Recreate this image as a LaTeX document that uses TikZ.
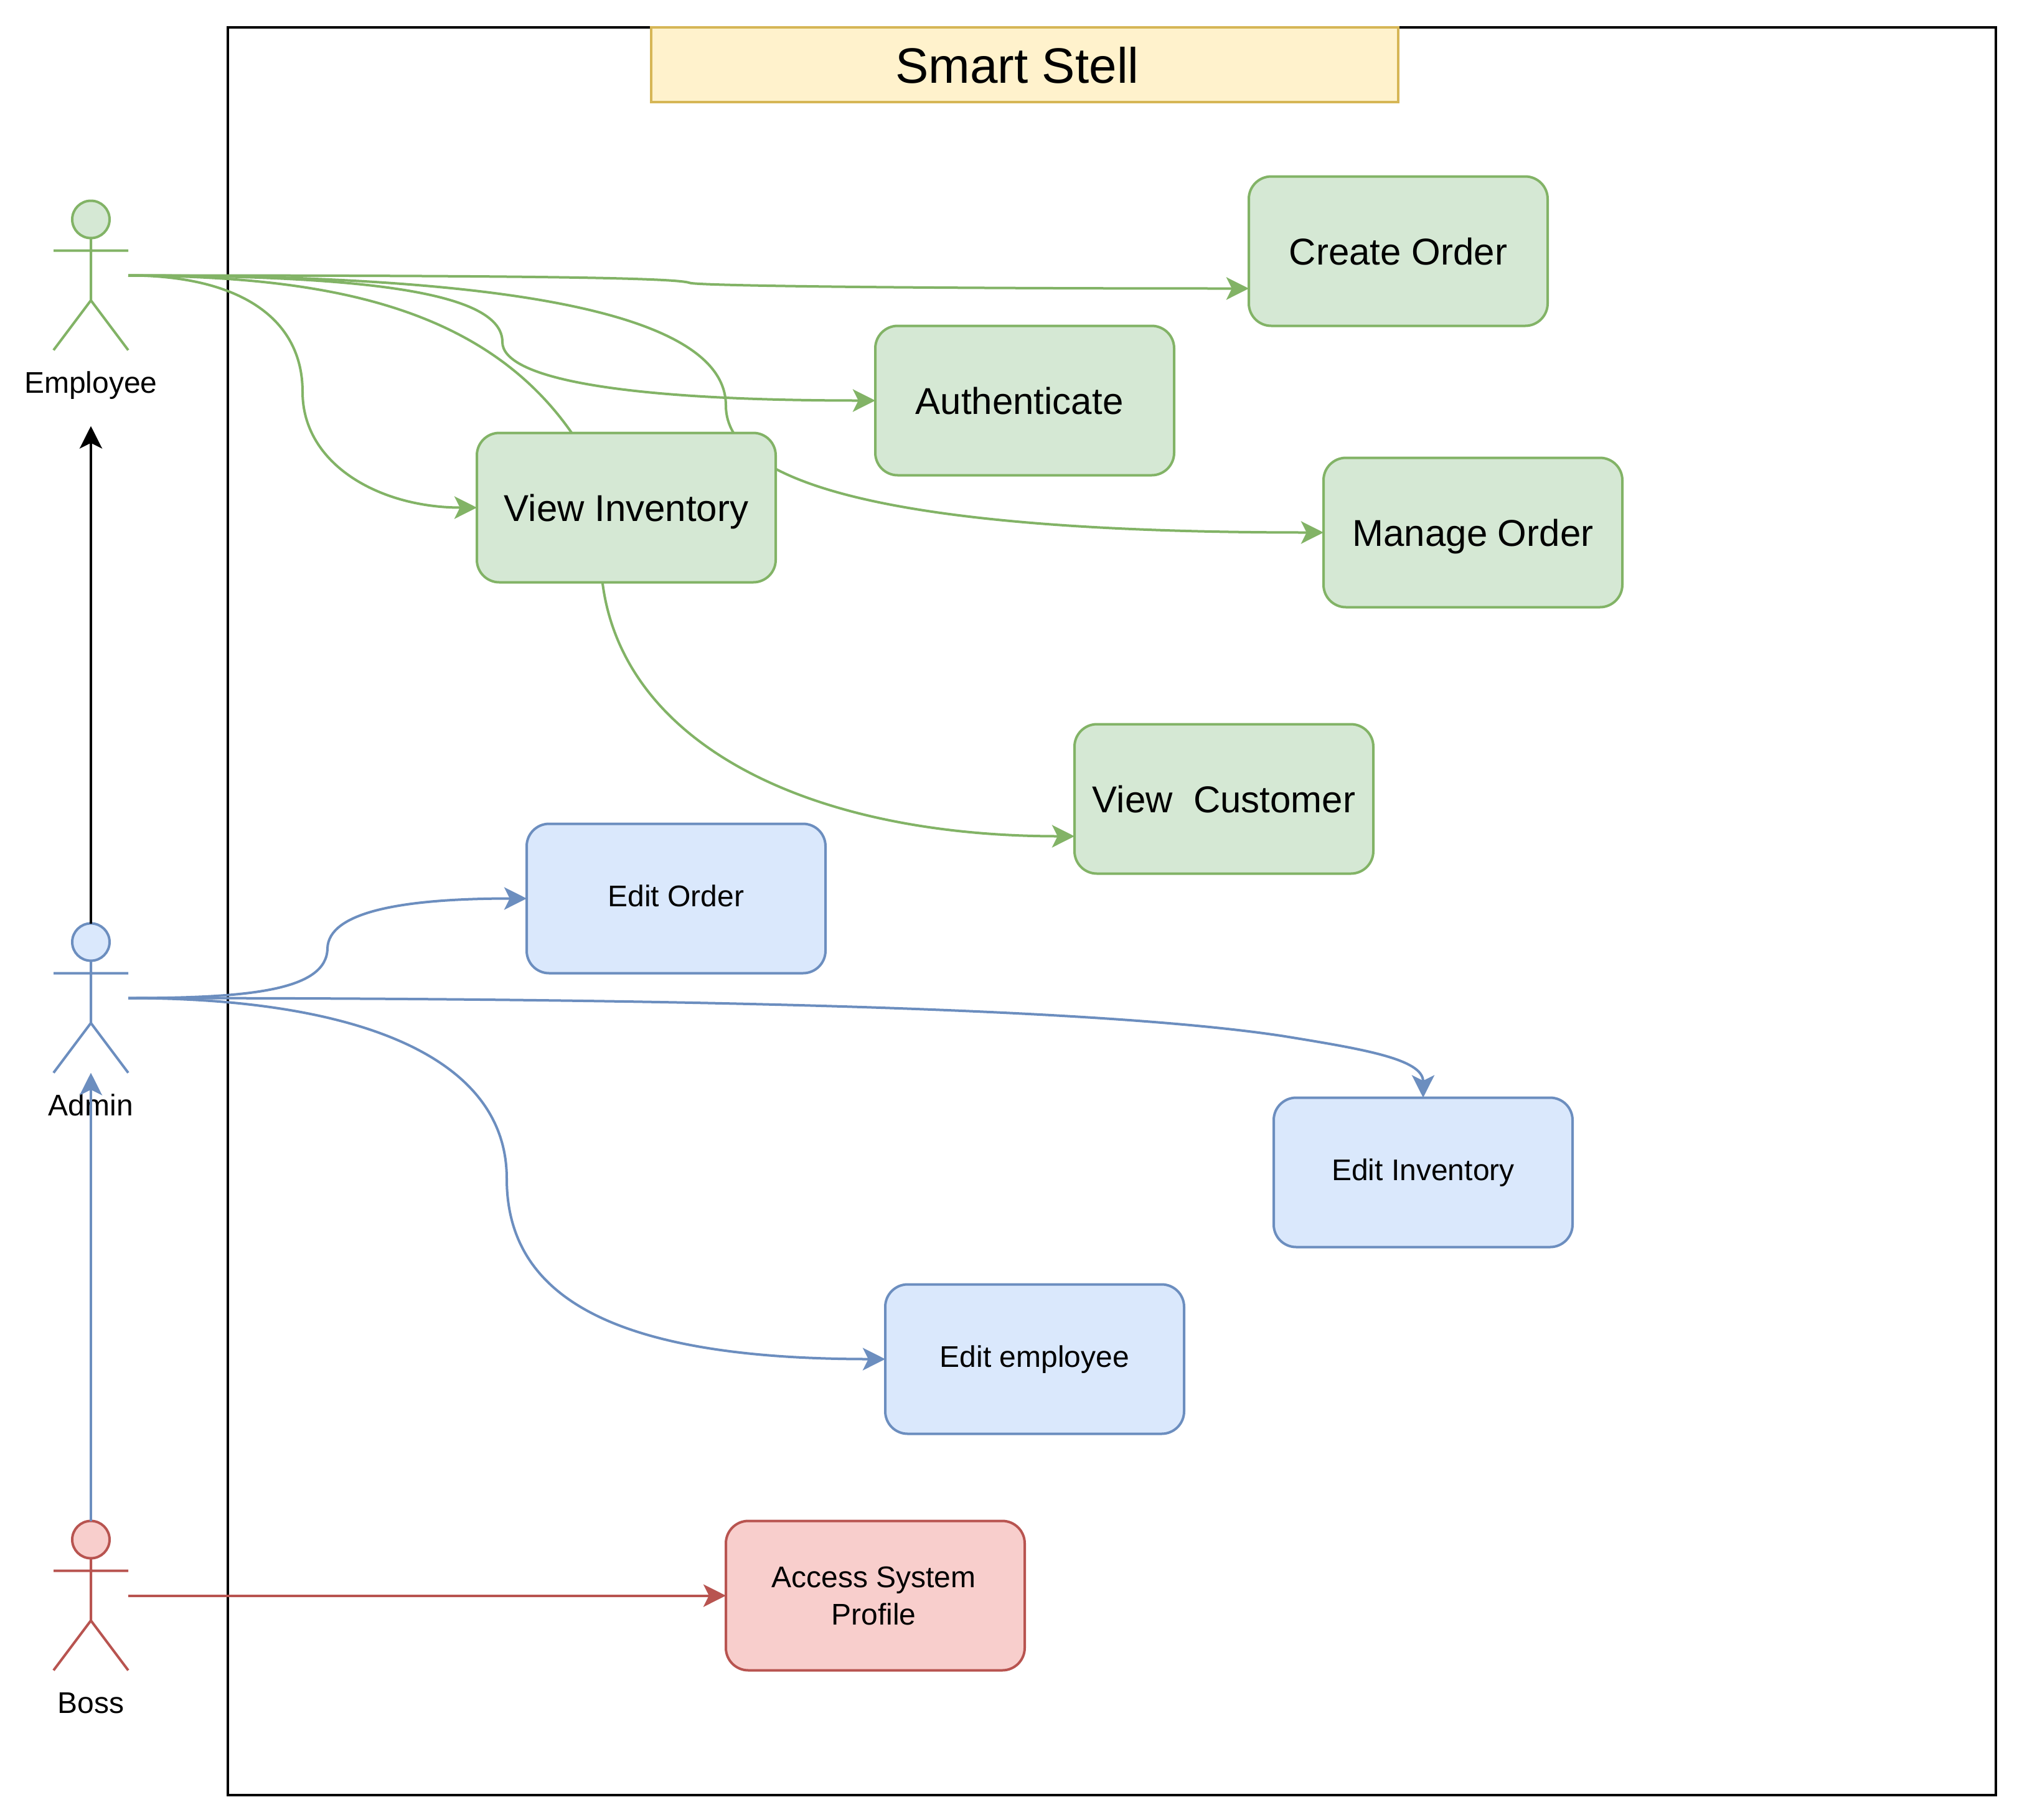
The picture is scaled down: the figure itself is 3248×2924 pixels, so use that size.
\documentclass[tikz,border=0pt]{standalone}
\usepackage{fontspec}
\setmainfont{Liberation Sans}
\usetikzlibrary{arrows.meta}
\definecolor{gfill}{HTML}{D5E8D4}\definecolor{gline}{HTML}{82B366}
\definecolor{bfill}{HTML}{DAE8FC}\definecolor{bline}{HTML}{6C8EBF}
\definecolor{rfill}{HTML}{F8CECC}\definecolor{rline}{HTML}{B85450}
\definecolor{yfill}{HTML}{FFF2CC}\definecolor{yline}{HTML}{D6B656}
\pgfdeclarelayer{framelayer}\pgfdeclarelayer{edgelayer}\pgfdeclarelayer{frontlayer}
\pgfsetlayers{framelayer,edgelayer,main,frontlayer}
\tikzset{
  usecase/.style={draw,rounded corners=9pt,line width=1pt,minimum width=120pt,minimum height=60pt,inner sep=0pt,outer sep=0pt,align=center,text=black},
  greencase/.style={usecase,draw=gline,fill=gfill,font=\fontsize{15}{18.75}\selectfont,text height=11pt,text depth=0pt},
  bluecase/.style={usecase,draw=bline,fill=bfill,font=\fontsize{12}{15}\selectfont,text height=6.5pt,text depth=0pt},
  redcase/.style={usecase,draw=rline,fill=rfill,font=\fontsize{12}{15}\selectfont},
  actorbox/.style={minimum width=30pt,minimum height=60pt,inner sep=0pt,outer sep=0pt},
  link/.style={line width=1pt,-{Stealth[length=9pt,width=9pt,inset=2.2pt]}},
  smallcap/.style={font=\fontsize{12}{15}\selectfont,inner sep=0pt,anchor=base}
}
% #1 name, #2 centre x, #3 top y, #4 line, #5 fill
\newcommand{\stickman}[5]{%
  \node[actorbox] (#1) at (#2,#3+120) {};
  \draw[#4,line width=1pt,fill=#5] (#2,#3+30) ellipse [x radius=30,y radius=30];
  \draw[#4,line width=1pt] (#2,#3+60) -- (#2,#3+160) (#2-60,#3+80) -- (#2+60,#3+80)
     (#2-60,#3+240) -- (#2,#3+160) -- (#2+60,#3+240);
}
\begin{document}
\begin{tikzpicture}[x=0.25pt,y=-0.25pt]
\useasboundingbox (0,-1.5) rectangle (3248,2922.5);
\begin{pgfonlayer}{framelayer}
\draw[black,line width=1pt] (366,42) rectangle (3206,2882);
\end{pgfonlayer}
\node[draw=yline,fill=yfill,line width=1pt,minimum width=300pt,minimum height=30pt,inner sep=0pt,outer sep=0pt,font=\fontsize{20}{24}\selectfont,text height=15pt,text depth=0pt] (title) at (1646,102) {Smart Stell\hspace*{6pt}};

\stickman{emp}{146}{321}{gline}{gfill}
\stickman{adm}{146}{1482}{bline}{bfill}
\stickman{bos}{146}{2442}{rline}{rfill}
\node[smallcap] (empl) at (146,630) {Employee};
\node[smallcap] (adml) at (146,1791) {Admin};
\node[smallcap] (bosl) at (146,2751) {Boss};
\coordinate (emptip) at (146,683);

\node[greencase] (create) at (2246,402) {Create Order};
\node[greencase] (auth) at (1646,642) {Authenticate\hspace*{4.2pt}};
\node[greencase] (inv) at (1006,814) {View Inventory};
\node[greencase] (manage) at (2366,854) {Manage Order};
\node[greencase] (cust) at (1966,1282) {View\ \ Customer};
\node[bluecase] (eorder) at (1086,1442) {Edit Order};
\node[bluecase] (einv) at (2286,1882) {Edit Inventory};
\node[bluecase] (eemp) at (1662,2182) {Edit employee};
\node[redcase] (access) at (1406,2562) {Access System\hspace*{1.2pt}\\Profile\hspace*{1.2pt}};

\begin{pgfonlayer}{edgelayer}
\draw[link,gline] (emp.east) .. controls (385,441) and (486,510) .. (486,628)
   .. controls (486,745) and (610,814) .. (inv.west);
\draw[link,gline] (emp.east) .. controls (500,443) and (768,480) .. (917,692)
   .. controls (945,733) and (960,820) .. (965,900)
   .. controls (975,1180) and (1280,1342) .. ([yshift=-15pt]cust.west);
\draw[link,gline] (emp.east) .. controls (600,441) and (807,470) .. (807,548)
   .. controls (807,605) and (990,642) .. (auth.west);
\draw[link,gline] (emp.east) .. controls (600,441) and (1166,462) .. (1166,650)
   .. controls (1166,775) and (1430,854) .. (manage.west);
\draw[link,gline] (emp.east) .. controls (800,441) and (1085,444) .. (1108,453)
   .. controls (1125,458) and (1500,462) .. ([yshift=-15pt]create.west);
\draw[link,bline] (adm.east) .. controls (400,1602) and (525,1590) .. (526,1522)
   .. controls (528,1465) and (640,1442) .. (eorder.west);
\draw[link,bline] (adm.east) .. controls (800,1602) and (1700,1608) .. (2061,1663)
   .. controls (2190,1684) and (2286,1700) .. (einv.north);
\draw[link,bline] (adm.east) .. controls (560,1602) and (814,1690) .. (814,1892)
   .. controls (814,2090) and (1000,2182) .. (eemp.west);
\draw[link,rline] (bos.east) -- (access.west);
\end{pgfonlayer}
\begin{pgfonlayer}{frontlayer}
\draw[link,black] (adm.north) -- (emptip);
\draw[link,bline] (bos.north) -- (adm.south);
\end{pgfonlayer}
\end{tikzpicture}
\end{document}
